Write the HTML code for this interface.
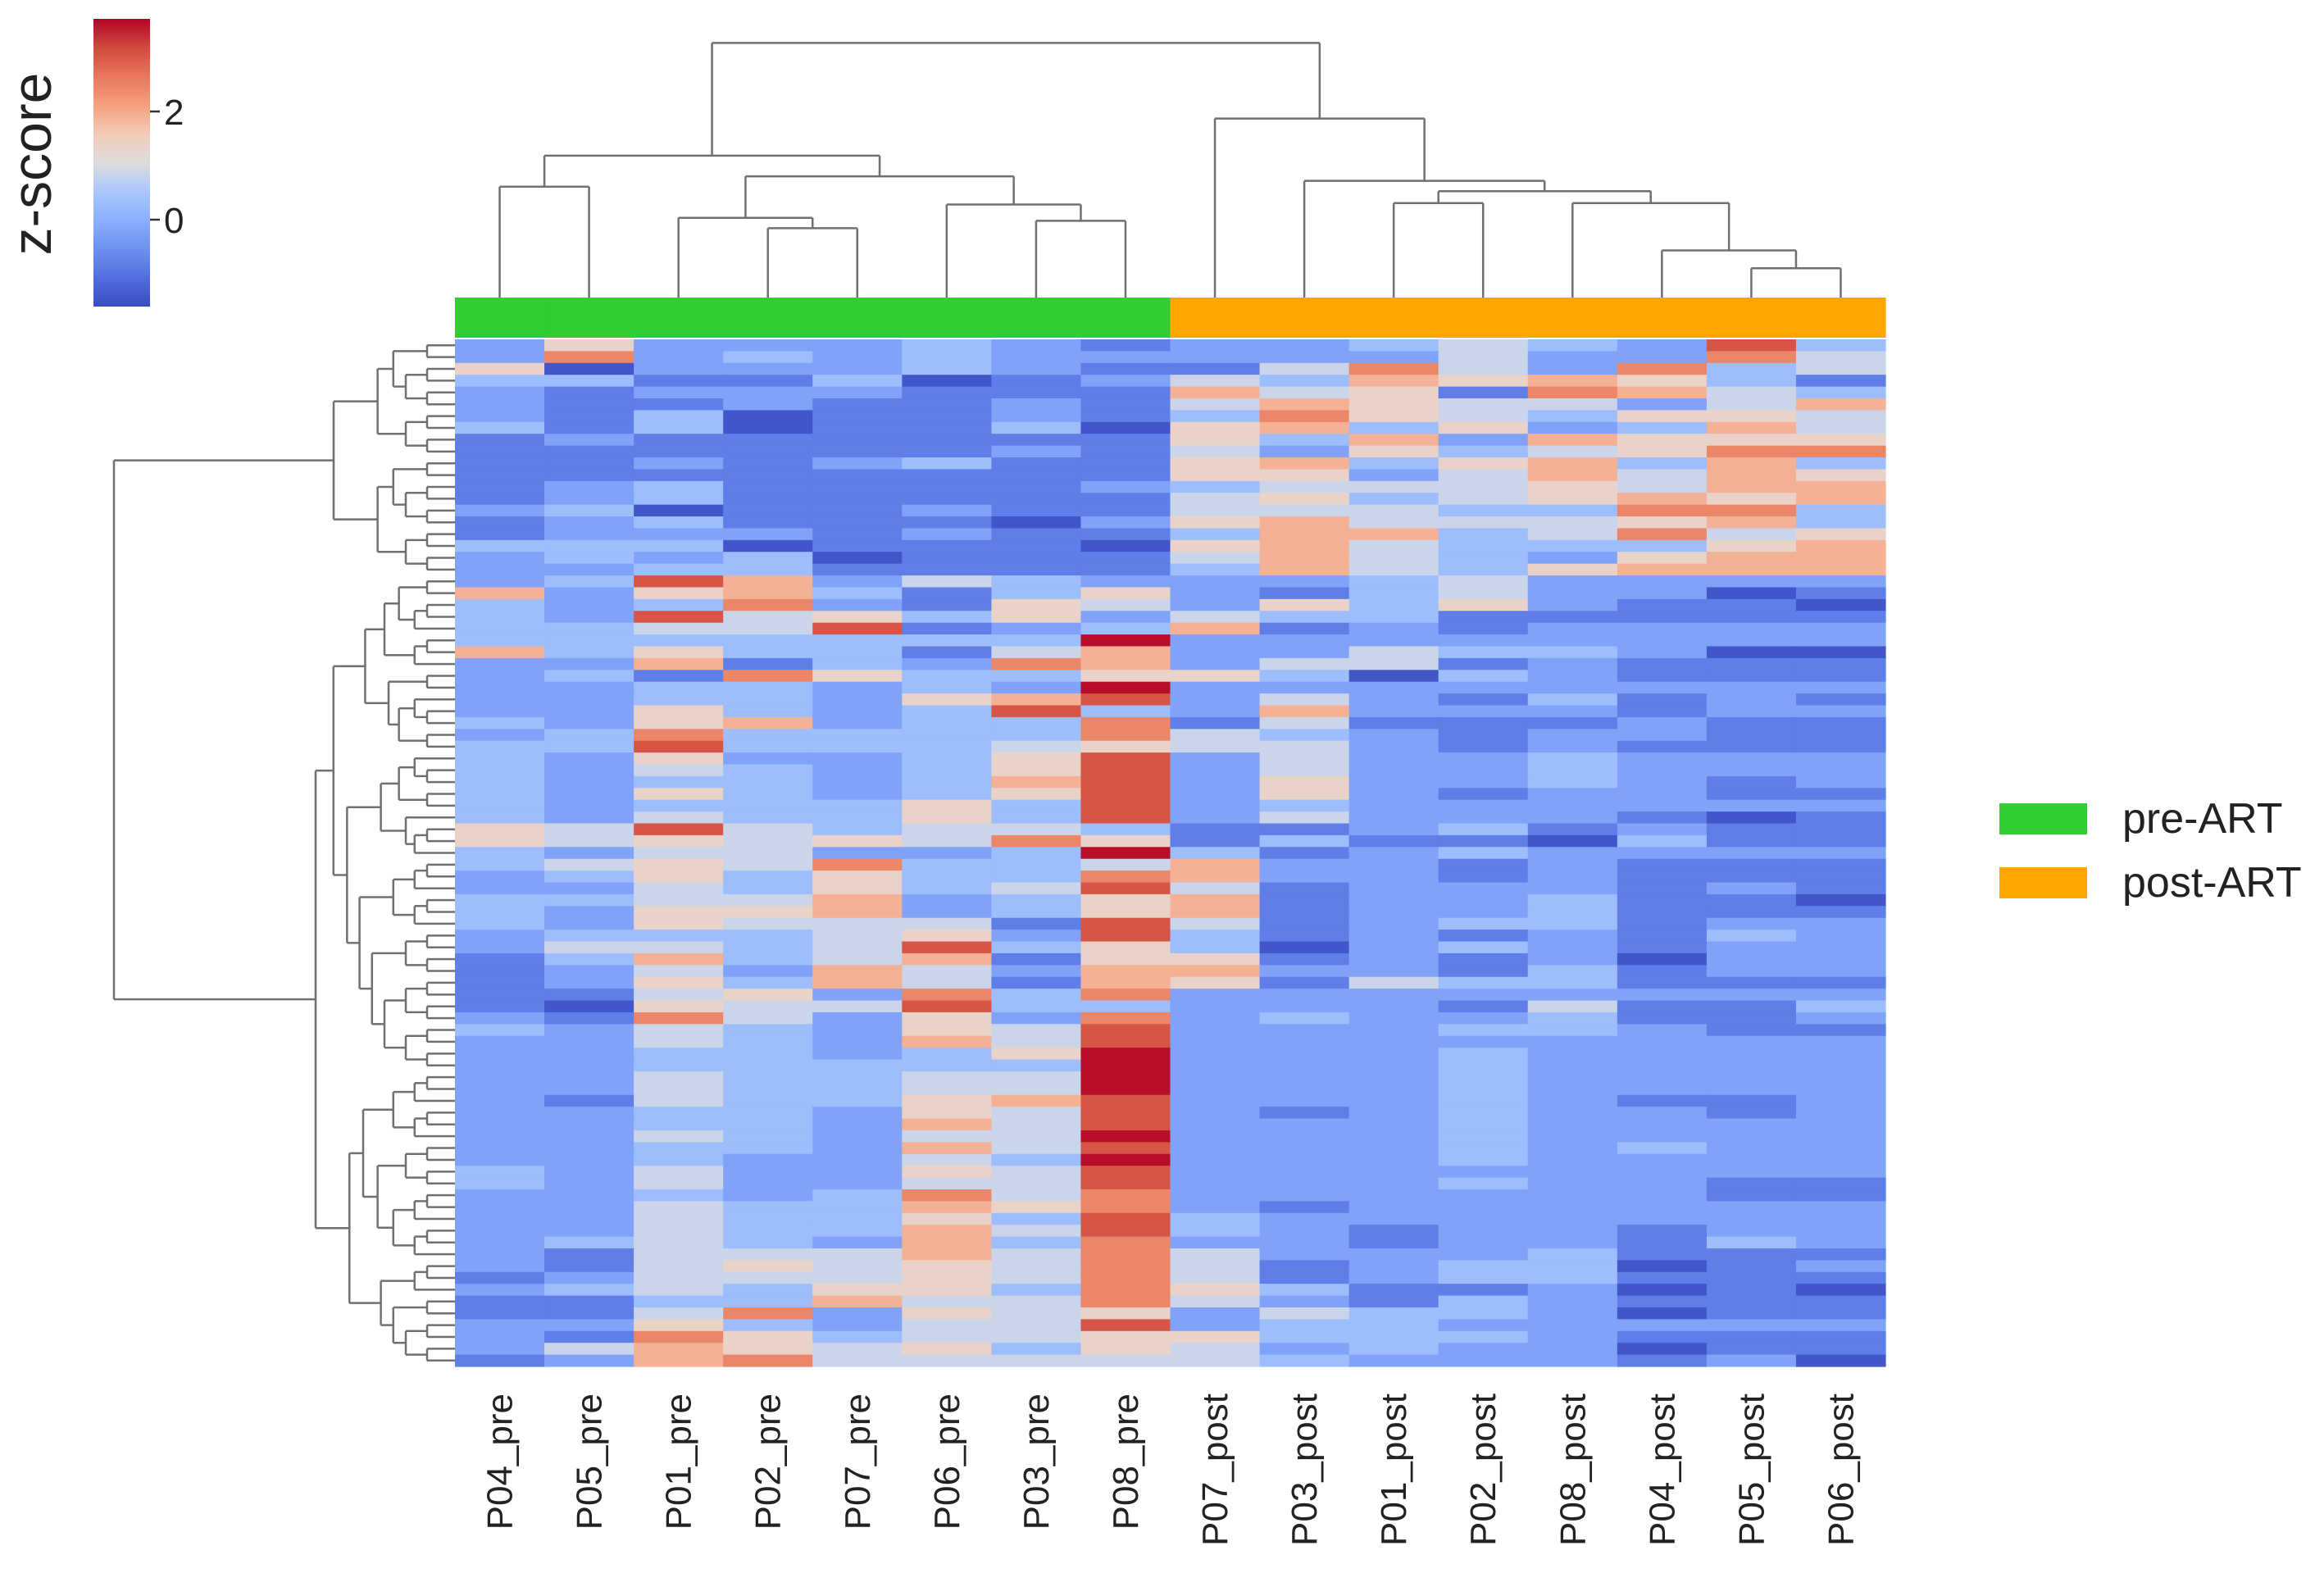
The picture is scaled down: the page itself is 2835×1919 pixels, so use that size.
<!DOCTYPE html>
<html><head><meta charset="utf-8">
<style>
html,body{margin:0;padding:0;background:#fff;}
svg{display:block;font-family:"Liberation Sans",Arial,sans-serif;}
</style></head>
<body>
<svg id="chart" width="2835" height="1919" viewBox="0 0 2835 1919" xmlns="http://www.w3.org/2000/svg">
  <defs>
    <linearGradient id="cbGrad" x1="0" y1="1" x2="0" y2="0">
      <stop offset="0" stop-color="#3a4cc0"/>
      <stop offset="0.1" stop-color="#526ede"/>
      <stop offset="0.2" stop-color="#6e90f1"/>
      <stop offset="0.3" stop-color="#8cafff"/>
      <stop offset="0.4" stop-color="#aac7fd"/>
      <stop offset="0.5" stop-color="#dddddd"/>
      <stop offset="0.6" stop-color="#f2cbb8"/>
      <stop offset="0.7" stop-color="#f5a07e"/>
      <stop offset="0.8" stop-color="#e8785d"/>
      <stop offset="0.9" stop-color="#d0493e"/>
      <stop offset="1" stop-color="#b40426"/>
    </linearGradient>
  </defs>
  <g id="colorbar">
    <rect x="114" y="23" width="69" height="351" fill="url(#cbGrad)"/>
    <line x1="183" y1="136" x2="195" y2="136" stroke="#333" stroke-width="2.5"/>
    <line x1="183" y1="268" x2="195" y2="268" stroke="#333" stroke-width="2.5"/>
    <text x="200" y="152" font-size="44" fill="#222">2</text>
    <text x="200" y="284" font-size="44" fill="#222">0</text>
    <text transform="translate(62,200) rotate(-90)" text-anchor="middle" font-size="68" fill="#222">z-score</text>
  </g>
  <g id="coldendro"></g>
  <g id="rowdendro"></g>
  <g id="groupbar"></g>
  <g id="heat"></g>
  <g id="xlabels"></g>
  <g id="legend">
    <rect x="2439" y="980" width="107" height="38" fill="#32cd32"/>
    <text x="2589" y="1016" font-size="52" fill="#222">pre-ART</text>
    <rect x="2439" y="1058" width="107" height="38" fill="#ffa500"/>
    <text x="2589" y="1094" font-size="52" fill="#222">post-ART</text>
  </g>
</svg>
<script>
const columns = ["P04_pre","P05_pre","P01_pre","P02_pre","P07_pre","P06_pre","P03_pre","P08_pre","P07_post","P03_post","P01_post","P02_post","P08_post","P04_post","P05_post","P06_post"];
const groups = ["pre","pre","pre","pre","pre","pre","pre","pre","post","post","post","post","post","post","post","post"];
const levels = [-1.45,-0.82,-0.22,0.3,0.85,1.35,1.9,2.46,3.04,3.62];
const rowsData = [
"2522232122343283",
"2723232222242274",
"5022232114742734",
"3311301243656531",
"2122211164517643",
"2112112146544246",
"2130112137543554",
"3130113056352364",
"1211111153626555",
"1111112142534577",
"1121231156356363",
"1111111155246465",
"1231111234445466",
"1231111145345656",
"2301121144433773",
"1231110256444563",
"1222121136634745",
"3330111056433356",
"2323011146432566",
"2233111136435666",
"2386243222342222",
"6256313521342201",
"3237215425352110",
"3284535243311111",
"3344812361212222",
"3333333922222222",
"6353314622433200",
"2261327624412111",
"2317533553032111",
"2233232922222222",
"2233256824213121",
"2253238326222122",
"3256233714111211",
"2373333743212211",
"3383334544212111",
"3252235824223222",
"3243235824223222",
"3233236825223212",
"3253235825212211",
"3233353823222222",
"3243353824222101",
"5484344311231211",
"5454547513110311",
"3244223931232222",
"3454733462212111",
"2353533762212111",
"2243534841222121",
"3344623561223110",
"3255623561223111",
"3254441841233122",
"2333452831212132",
"2443483530232122",
"1363461551212022",
"1242642662213122",
"1253641651433111",
"1145273722222222",
"1054483322214113",
"2174252723223112",
"3243254822233211",
"2243264822222222",
"2233235922232222",
"2233333922232222",
"2243344922232222",
"2243344922232222",
"2143356822232112",
"2233254821232212",
"2233264822232222",
"2243244922232222",
"2233264822232322",
"2232243922232222",
"3242254822222222",
"3242244822232211",
"2232374722222211",
"2243365721222222",
"2243353832222222",
"2243364832122122",
"2343263722122132",
"2144464742223111",
"2145454741233012",
"1244454741233111",
"2343553753112010",
"1133644742132111",
"1147254524332011",
"2253244823322222",
"2175344553332111",
"2465453542322011",
"1267444443222120"
];
const rowDendroNodeHeights = [139, 407, 385];
const colMerges = [[0,1,126],[3,4,154],[2,17,147],[6,7,149],[5,19,138],[18,20,119],[16,21,105],[14,15,181],[13,23,169],[12,24,137],[10,11,137],[26,25,129],[9,27,122],[8,28,80],[22,29,29]];
</script>
<script>
(function(){
const NS = "http://www.w3.org/2000/svg";
const HX0 = 555, HX1 = 2300, HY0 = 414, HY1 = 1667;
const nCols = columns.length, nRows = rowsData.length;
const cw = (HX1 - HX0) / nCols, rh = (HY1 - HY0) / nRows;
const xPos = c => HX0 + c * cw;
const yPos = r => HY0 + r * rh;
const zLo = -1.6, zHi = 3.7;
const stops = [[58,76,192],[82,110,222],[110,144,241],[140,175,254],[170,199,253],[221,221,221],[242,203,184],[245,160,126],[232,120,93],[208,73,62],[180,4,38]];
function cmap(z){
  let t = (z - zLo) / (zHi - zLo);
  t = Math.max(0, Math.min(1, t)) * 10;
  const i = Math.min(9, Math.floor(t)), f = t - i;
  const a = stops[i], b = stops[i+1];
  return "rgb(" + [0,1,2].map(k => Math.round(a[k] + (b[k]-a[k])*f)).join(",") + ")";
}
function mk(tag, attrs, parent){
  const e = document.createElementNS(NS, tag);
  for (const k in attrs) e.setAttribute(k, attrs[k]);
  parent.appendChild(e);
  return e;
}
const heat = document.getElementById("heat");
for (let r = 0; r < nRows; r++){
  for (let c = 0; c < nCols; c++){
    const z = levels[+rowsData[r][c]];
    const el = mk("rect", {x: xPos(c).toFixed(2), y: yPos(r).toFixed(2), width: (cw+0.6).toFixed(2), height: (rh+0.6).toFixed(2), fill: cmap(z)}, heat);
    
    
  }
}
const gb = document.getElementById("groupbar");
for (let c = 0; c < nCols; c++){
  const el = mk("rect", {x: xPos(c).toFixed(2), y: 363, width: (cw+0.6).toFixed(2), height: 49, fill: groups[c]==="pre" ? "#32cd32" : "#ffa500"}, gb);
  
  
}
const xl = document.getElementById("xlabels");
for (let c = 0; c < nCols; c++){
  const cx = xPos(c) + cw/2 + 15;
  const el = mk("text", {transform: "translate(" + cx.toFixed(1) + ",1700) rotate(-90)", "text-anchor": "end", "font-size": 44, fill: "#222"}, xl);
  el.textContent = columns[c];
  
  
}
const cd = document.getElementById("coldendro");
const S = 1.808, LEAFY = 363;
const nodes = [];
for (let c = 0; c < nCols; c++) nodes.push({x: xPos(c) + cw/2, y: LEAFY});
function seg(x1,y1,x2,y2,parent){
  const el = mk("line", {x1:x1, y1:y1, x2:x2, y2:y2, stroke:"#707070", "stroke-width":2.5}, parent);
  
  
}
colMerges.forEach(m => {
  const a = nodes[m[0]], b = nodes[m[1]], y = m[2] * S;
  seg(a.x, a.y, a.x, y, cd);
  seg(b.x, b.y, b.x, y, cd);
  seg(a.x, y, b.x, y, cd);
  nodes.push({x: (a.x + b.x)/2, y: y});
});
const rd = document.getElementById("rowdendro");
let flip = 0;
function nodeX(n){ return HX0 - 8 - 26 * Math.log2(n); }
function tree(lo, hi, x){
  if (hi - lo === 1){ return yPos(lo) + rh/2; }
  flip++;
  const frac = (flip % 3 === 0) ? 0.35 : (flip % 3 === 1 ? 0.5 : 0.62);
  const mid = lo + Math.max(1, Math.min(hi-lo-1, Math.round((hi-lo)*frac)));
  const xa = (mid - lo === 1) ? HX0 : nodeX(mid - lo);
  const xb = (hi - mid === 1) ? HX0 : nodeX(hi - mid);
  const ya = tree(lo, mid, Math.max(x, xa));
  const yb = tree(mid, hi, Math.max(x, xb));
  seg(x, ya, Math.max(x, xa), ya, rd);
  seg(x, yb, Math.max(x, xb), yb, rd);
  seg(x, ya, x, yb, rd);
  return (ya + yb)/2;
}
const rootX = rowDendroNodeHeights[0];
const yTop = tree(0, 20, rowDendroNodeHeights[1]);
const yBot = tree(20, nRows, rowDendroNodeHeights[2]);
seg(rootX, yTop, rowDendroNodeHeights[1], yTop, rd);
seg(rootX, yBot, rowDendroNodeHeights[2], yBot, rd);
seg(rootX, yTop, rootX, yBot, rd);
})();
</script>
</body></html>
